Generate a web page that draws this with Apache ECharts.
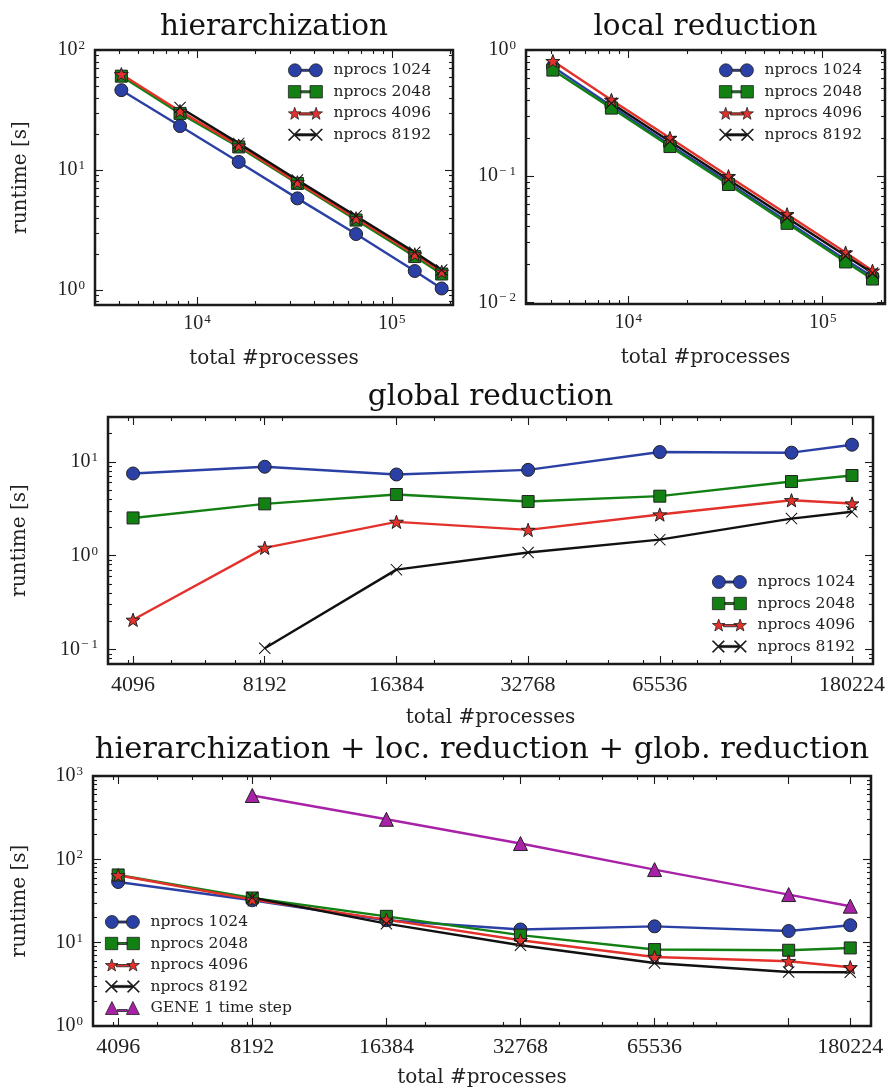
<!DOCTYPE html>
<html>
<head>
<meta charset="utf-8">
<script src="https://cdn.jsdelivr.net/npm/echarts@6/dist/echarts.min.js"></script>
<style>
  html, body { margin: 0; padding: 0; background: #fff; }
  #chart { width: 889px; height: 1090px; }
</style>
</head>
<body>
<div id="chart"></div>
<script>
// x positions shared by every panel
const procs = [4096, 8192, 16384, 32768, 65536, 131072, 180224];
const procLabels = [4096, 8192, 16384, 32768, 65536, 180224];
const names = ['nprocs 1024', 'nprocs 2048', 'nprocs 4096', 'nprocs 8192'];
const geneName = 'GENE 1 time step';

// hierarchization runtime [s]
const hier1024 = [46.4, 23.3, 11.7, 5.81, 2.93, 1.44, 1.03];
const hier2048 = [60.7, 29.7, 15.6, 7.74, 3.83, 1.90, 1.36];
const hier4096 = [63.0, 31.0, 16.0, 7.90, 3.96, 1.98, 1.42];
const hier8192 = [null, 33.3, 16.7, 8.25, 4.14, 2.06, 1.47];

// local reduction runtime [s]
const loc1024 = [0.74, 0.36, 0.178, 0.089, 0.0440, 0.0218, 0.0160];
const loc2048 = [0.695, 0.347, 0.172, 0.086, 0.0423, 0.0209, 0.0153];
const loc4096 = [0.819, 0.403, 0.201, 0.100, 0.0499, 0.0248, 0.0178];
const loc8192 = [null, 0.380, 0.189, 0.094, 0.0469, 0.0234, 0.0171];

// global reduction runtime [s]
const glob1024 = [7.5, 8.85, 7.32, 8.2, 12.7, 12.5, 15.2];
const glob2048 = [2.52, 3.56, 4.48, 3.77, 4.3, 6.16, 7.14];
const glob4096 = [0.207, 1.21, 2.29, 1.88, 2.74, 3.89, 3.59];
const glob8192 = [null, 0.103, 0.709, 1.08, 1.48, 2.48, 2.93];

// total runtime [s]
const tot1024 = [53.5, 32.3, 18.6, 14.4, 15.7, 13.8, 16.2];
const tot2048 = [65.0, 34.4, 20.7, 12.3, 8.26, 8.1, 8.64];
const tot4096 = [64.4, 32.9, 18.9, 10.7, 6.73, 5.98, 5.07];
const tot8192 = [null, 34.8, 16.9, 9.3, 5.7, 4.45, 4.41];
const gene = [null, 585, 303, 155, 75.4, 37.8, 27.4];

const colors = ['#2b40a4', '#138013', '#e3322b', '#111111'];
const geneColor = '#a822a8';
const frame = '#1a1a1a';

const starPath = 'path://M0,-10L2.35,-3.24L9.51,-3.09L3.80,1.24L5.88,8.09L0,4L-5.88,8.09L-3.80,1.24L-9.51,-3.09L-2.35,-3.24Z';
const xPath = 'path://M0,0.06L0.06,0L0.5,0.44L0.94,0L1,0.06L0.56,0.5L1,0.94L0.94,1L0.5,0.56L0.06,1L0,0.94L0.44,0.5Z';
const symbols = ['circle', 'rect', starPath, xPath];

const legendIcons = {
  'nprocs 1024': 'path://M0,6.5A6.5,6.5,0,1,1,13,6.5A6.5,6.5,0,1,1,0,6.5Z M21,6.5A6.5,6.5,0,1,1,34,6.5A6.5,6.5,0,1,1,21,6.5Z M13,5.5H21V7.5H13Z',
  'nprocs 2048': 'path://M0.5,0.5H12.5V12.5H0.5Z M21.5,0.5H33.5V12.5H21.5Z M12.5,5.5H21.5V7.5H12.5Z',
  'nprocs 4096': 'path://M6.5,0.4L8.03,4.8L12.68,4.89L8.97,7.7L10.32,12.16L6.5,9.5L2.68,12.16L4.03,7.7L0.32,4.89L4.97,4.8Z M27.5,0.4L29.03,4.8L33.68,4.89L29.97,7.7L31.32,12.16L27.5,9.5L23.68,12.16L25.03,7.7L21.32,4.89L25.97,4.8Z M11,5.8H24V8H11Z',
  'nprocs 8192': 'path://M0,0.7L0.7,0L6,5.3L11.3,0L12,0.7L6.7,6L12,11.3L11.3,12L6,6.7L0.7,12L0,11.3L5.3,6Z M22,0.7L22.7,0L28,5.3L33.3,0L34,0.7L28.7,6L34,11.3L33.3,12L28,6.7L22.7,12L22,11.3L27.3,6Z M6,4.9H28V7.1H6Z',
  'GENE 1 time step': 'path://M0,13L6.5,0L13,13Z M21,13L27.5,0L34,13Z M12,8H22V10H12Z'
};

function decades(lo, hi) {
  const out = [];
  for (let e = Math.floor(Math.log10(lo)); e <= Math.ceil(Math.log10(hi)); e++) {
    const v = Math.pow(10, e);
    if (v >= lo && v <= hi) out.push(v);
  }
  return out;
}
function minors(lo, hi) {
  const out = [];
  for (let e = Math.floor(Math.log10(lo)); e <= Math.ceil(Math.log10(hi)); e++) {
    for (let k = 2; k <= 9; k++) {
      const v = +(k * Math.pow(10, e)).toPrecision(6);
      if (v > lo && v < hi) out.push(v);
    }
  }
  return out;
}
function powLabel(v) {
  const e = Math.round(Math.log10(v));
  return '{b|10}{s|' + (e < 0 ? '\u2212 ' + (-e) : e) + '}';
}
function plainLabel(v) {
  return '{n|' + Math.round(v) + '}';
}

const labelRich = {
  b: { fontFamily: 'Liberation Serif', fontSize: 20, color: '#222', lineHeight: 22 },
  s: { fontFamily: 'Liberation Serif', fontSize: 13, color: '#222', verticalAlign: 'top', lineHeight: 14, padding: [0, 0, 0, 1] },
  n: { fontFamily: 'Liberation Serif', fontSize: 22, color: '#222' }
};
const nameStyle = { fontFamily: 'DejaVu Serif', fontSize: 20, color: '#222' };

function buildAxes(dim, g, cfg) {
  const isX = dim === 'x';
  const sides = isX ? ['bottom', 'top'] : ['left', 'right'];
  const out = [];
  sides.forEach((side, si) => {
    [[cfg.major, 8], [cfg.minor, 4]].forEach(([ticks, len], ti) => {
      const main = si === 0 && ti === 0;
      out.push({
        type: 'log',
        logBase: 10,
        gridIndex: g,
        position: side,
        min: cfg.range[0],
        max: cfg.range[1],
        silent: true,
        axisLine: { show: false },
        splitLine: { show: false },
        axisTick: { show: true, inside: true, length: len, customValues: ticks, lineStyle: { color: frame, width: 1.1 } },
        axisLabel: main
          ? { show: true, customValues: cfg.labels, formatter: cfg.fmt, margin: cfg.margin, rich: labelRich }
          : { show: false },
        name: main ? cfg.name : '',
        nameLocation: 'middle',
        nameGap: cfg.nameGap,
        nameRotate: isX ? 0 : 90,
        nameTextStyle: nameStyle
      });
    });
  });
  return out;
}

const panels = [
  {
    grid: { left: 95, top: 50, width: 358, height: 255 },
    x: { range: [3000, 206000], labels: [1e4, 1e5], fmt: powLabel, margin: 8, name: 'total #processes', nameGap: 44 },
    y: { range: [0.75, 100.3], fmt: powLabel, margin: 10, name: 'runtime [s]', nameGap: 64 },
    series: [hier1024, hier2048, hier4096, hier8192],
    title: 'hierarchization', titleTop: 12, titleSize: 29.5,
    legend: { left: 288, top: 62.3, data: names }
  },
  {
    grid: { left: 526, top: 50, width: 359, height: 254 },
    x: { range: [2980, 209000], labels: [1e4, 1e5], fmt: powLabel, margin: 8, name: 'total #processes', nameGap: 44 },
    y: { range: [0.0097, 1.003], fmt: powLabel, margin: 10, name: '', nameGap: 60 },
    series: [loc1024, loc2048, loc4096, loc8192],
    title: 'local reduction', titleTop: 12, titleSize: 29.5,
    legend: { left: 719, top: 62.3, data: names }
  },
  {
    grid: { left: 108, top: 417, width: 765, height: 247 },
    x: { range: [3590, 201300], major: procs, labels: procLabels, fmt: plainLabel, margin: 10, name: 'total #processes', nameGap: 44 },
    y: { range: [0.07, 30], fmt: powLabel, margin: 10, name: 'runtime [s]', nameGap: 78 },
    series: [glob1024, glob2048, glob4096, glob8192],
    title: 'global reduction', titleTop: 382, titleSize: 29.5,
    legend: { left: 712, top: 574, data: names }
  },
  {
    grid: { left: 93, top: 776, width: 778, height: 250 },
    x: { range: [3596, 200600], major: procs, labels: procLabels, fmt: plainLabel, margin: 10, name: 'total #processes', nameGap: 42 },
    y: { range: [0.998, 1003], fmt: powLabel, margin: 10, name: 'runtime [s]', nameGap: 63 },
    series: [tot1024, tot2048, tot4096, tot8192],
    extra: gene,
    title: 'hierarchization + loc. reduction + glob. reduction', titleTop: 735, titleSize: 30.5,
    legend: { left: 105, top: 914, data: names.concat([geneName]) }
  }
];

const grids = [], xAxes = [], yAxes = [], series = [], titles = [], legends = [];

function lineSeries(name, vals, g, color, symbol, size) {
  return {
    type: 'line',
    name,
    xAxisIndex: g * 4,
    yAxisIndex: g * 4,
    data: procs.map((p, i) => [p, vals[i] == null ? '-' : vals[i]]),
    symbol,
    symbolSize: size,
    symbolKeepAspect: true,
    showAllSymbol: true,
    connectNulls: false,
    lineStyle: { color, width: 2.4 },
    itemStyle: { color, borderColor: '#222', borderWidth: symbol === xPath ? 0 : 1 },
    emphasis: { disabled: true },
    animation: false
  };
}

panels.forEach((p, g) => {
  grids.push(Object.assign({ show: true, borderColor: frame, borderWidth: 2.5, backgroundColor: 'transparent', containLabel: false, outerBoundsMode: 'none' }, p.grid));
  const xr = p.x.range, yr = p.y.range;
  xAxes.push(...buildAxes('x', g, Object.assign({ major: decades(xr[0], xr[1]), minor: minors(xr[0], xr[1]) }, p.x)));
  yAxes.push(...buildAxes('y', g, Object.assign({ major: decades(yr[0], yr[1]), minor: minors(yr[0], yr[1]), labels: decades(yr[0], yr[1]) }, p.y)));
  const sizes = [13, 12, 14, 12];
  p.series.forEach((vals, i) => {
    series.push(lineSeries(names[i], vals, g, colors[i], symbols[i], sizes[i]));
  });
  if (p.extra) series.push(lineSeries(geneName, p.extra, g, geneColor, 'triangle', 14));
  titles.push({
    text: p.title,
    left: p.grid.left + p.grid.width / 2,
    top: p.titleTop,
    padding: 0,
    textAlign: 'center',
    textStyle: { fontFamily: 'DejaVu Serif', fontWeight: 'normal', fontSize: p.titleSize, color: '#111' }
  });
  legends.push({
    show: true,
    orient: 'vertical',
    left: p.legend.left,
    top: p.legend.top,
    padding: 0,
    itemWidth: 34,
    itemHeight: 13,
    itemGap: 5.5,
    selectedMode: false,
    data: p.legend.data.map(n => ({ name: n, icon: legendIcons[n] })),
    itemStyle: { borderColor: '#222', borderWidth: 0.8 },
    textStyle: { fontFamily: 'DejaVu Serif', fontSize: 15.5, color: '#222', padding: [0, 0, 0, 6] }
  });
});

const chart = echarts.init(document.getElementById('chart'), null, { renderer: 'canvas' });
chart.setOption({
  backgroundColor: '#fff',
  animation: false,
  title: titles,
  legend: legends,
  grid: grids,
  xAxis: xAxes,
  yAxis: yAxes,
  series: series
});
window.addEventListener('resize', () => chart.resize());
</script>
</body>
</html>
